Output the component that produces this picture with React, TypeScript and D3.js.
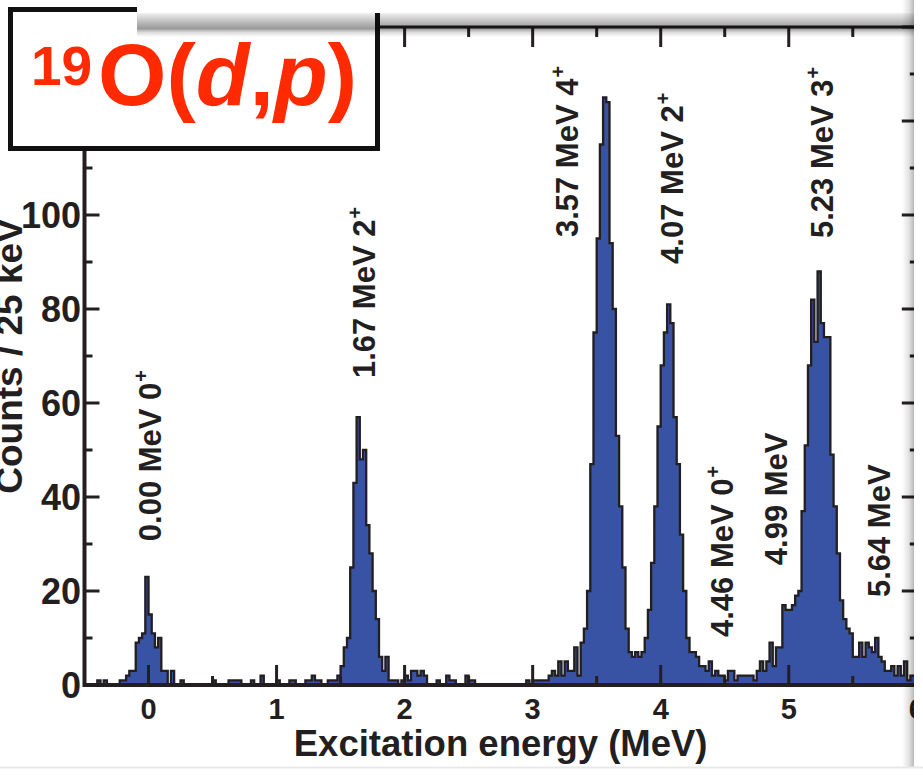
import React from 'react';
import * as d3 from 'd3';

// ---- data ----
const BIN_START = -0.5; // MeV
const BIN_WIDTH = 0.025; // MeV (25 keV)
const counts: number[] = [
  0, 0, 0, 0, 1, 0, 1, 0, 0, 0,
  0, 1, 1, 2, 3, 3, 9, 10, 11, 23,
  15, 11, 8, 10, 3, 3, 0, 3, 0, 0,
  1, 0, 0, 0, 0, 0, 0, 0, 0, 0,
  1, 0, 0, 0, 0, 1, 1, 1, 1, 0,
  0, 0, 1, 0, 0, 2, 0, 0, 0, 0,
  1, 0, 0, 0, 1, 1, 0, 0, 0, 1,
  1, 2, 1, 1, 0, 0, 1, 1, 1, 2,
  4, 8, 10, 25, 43, 57, 48, 50, 34, 28,
  20, 14, 6, 3, 6, 1, 1, 1, 0, 1,
  2, 1, 3, 3, 2, 3, 2, 0, 0, 0,
  1, 0, 0, 2, 1, 1, 0, 0, 0, 2,
  1, 1, 0, 0, 0, 0, 0, 0, 0, 0,
  0, 0, 0, 0, 0, 0, 0, 0, 1, 0,
  1, 1, 1, 1, 1, 2, 3, 2, 5, 2,
  5, 3, 3, 8, 2, 9, 12, 20, 47, 75,
  95, 115, 125, 124, 94, 80, 53, 38, 25, 12,
  7, 6, 7, 6, 7, 10, 16, 26, 38, 55,
  68, 75, 81, 77, 57, 47, 32, 20, 10, 7,
  7, 6, 4, 4, 3, 5, 2, 3, 2, 2,
  1, 3, 3, 1, 2, 2, 2, 2, 2, 1,
  3, 5, 3, 5, 9, 4, 8, 8, 17, 16,
  16, 17, 19, 20, 37, 51, 68, 82, 73, 88,
  77, 74, 74, 49, 38, 28, 18, 14, 12, 11,
  6, 6, 9, 6, 9, 8, 7, 10, 6, 5,
  3, 3, 4, 2, 4, 2, 5, 1, 2, 2,
];

const xMajorTicks = [0, 1, 2, 3, 4, 5, 6];
const xMinorTicks = [-0.5, 0.5, 1.5, 2.5, 3.5, 4.5, 5.5];
const yMajorTicks = [0, 20, 40, 60, 80, 100, 120, 140];
const yMinorTicks = [10, 30, 50, 70, 90, 110, 130];
const yTickLabels = [0, 20, 40, 60, 80, 100];

const peakNames = [
  '0.00 MeV 0', '1.67 MeV 2', '3.57 MeV 4', '4.07 MeV 2',
  '4.46 MeV 0', '4.99 MeV', '5.23 MeV 3', '5.64 MeV',
];
const peakSups = ['+', '+', '+', '+', '+', '', '+', ''];
// label anchor in data units (energy of text baseline, count where text starts)
const peakLabelE = [0.094, 1.766, 3.352, 4.172, 4.563, 4.984, 5.344, 5.789];
const peakLabelC = [30.6, 65.3, 95.3, 89.6, 10.2, 25.5, 95.1, 18.7];

const xTitle = 'Excitation energy (MeV)';
const yTitle = 'Counts / 25 keV';

// ---- layout ----
const W = 923;
const H = 779;
const FONT = '"Liberation Sans", Arial, Helvetica, sans-serif';
const INK = '#231f20';
const BLUE = '#3953a4';

export default function App() {
  const x = d3.scaleLinear().domain([-0.5, 6]).range([84.5, 916.8]);
  const y = d3.scaleLinear().domain([0, 140]).range([685, 27]);

  const pts: [number, number][] = counts.map((c, i) => [BIN_START + i * BIN_WIDTH, c]);
  pts.push([BIN_START + counts.length * BIN_WIDTH, counts[counts.length - 1]]);

  const area = d3
    .area<[number, number]>()
    .x((d) => x(d[0]))
    .y0(y(0))
    .y1((d) => y(d[1]))
    .curve(d3.curveStepAfter);
  const line = d3
    .line<[number, number]>()
    .x((d) => x(d[0]))
    .y((d) => y(d[1]))
    .curve(d3.curveStepAfter);

  const x0 = x.range()[0];
  const x1 = x.range()[1];
  const yb = y.range()[0];
  const yt = y.range()[1];

  return (
    <svg
      width={W}
      height={H}
      style={{ position: 'absolute', left: 0, top: 0, display: 'block', background: '#fff' }}
      fontFamily={FONT}
    >
      <defs>
        <linearGradient id="topShadow" x1="0" y1="0" x2="0" y2="1">
          <stop offset="0" stopColor="#000" stopOpacity="0.06" />
          <stop offset="0.35" stopColor="#000" stopOpacity="0.25" />
          <stop offset="0.65" stopColor="#000" stopOpacity="0.4" />
          <stop offset="0.8" stopColor="#000" stopOpacity="0.15" />
          <stop offset="1" stopColor="#000" stopOpacity="0" />
        </linearGradient>
        <linearGradient id="rightShadow" x1="0" y1="0" x2="1" y2="0">
          <stop offset="0" stopColor="#000" stopOpacity="0" />
          <stop offset="0.6" stopColor="#000" stopOpacity="0.12" />
          <stop offset="1" stopColor="#000" stopOpacity="0.28" />
        </linearGradient>
      </defs>

      {/* histogram */}
      <path d={area(pts) ?? ''} fill={BLUE} stroke="none" />
      <path d={line([[pts[0][0], 0], ...pts]) ?? ''} fill="none" stroke={INK} strokeWidth={2.3} strokeLinejoin="miter" />

      {/* frame */}
      <line x1={x0} x2={x1} y1={yb} y2={yb} stroke={INK} strokeWidth={4} />
      <line x1={x0} x2={x1} y1={yt} y2={yt} stroke={INK} strokeWidth={3} />
      <line x1={x0} x2={x0} y1={yt} y2={yb + 2} stroke={INK} strokeWidth={4} />
      <line x1={x1} x2={x1} y1={yt} y2={yb + 2} stroke={INK} strokeWidth={4} />

      {/* x ticks */}
      {xMajorTicks.map((t) => (
        <g key={'xM' + t}>
          <line x1={x(t)} x2={x(t)} y1={yb} y2={yb - 20} stroke={INK} strokeWidth={3} />
          <line x1={x(t)} x2={x(t)} y1={yt} y2={yt + 20} stroke={INK} strokeWidth={3} />
        </g>
      ))}
      {xMinorTicks.map((t) => (
        <g key={'xm' + t}>
          <line x1={x(t)} x2={x(t)} y1={yb} y2={yb - 9} stroke={INK} strokeWidth={3} />
          <line x1={x(t)} x2={x(t)} y1={yt} y2={yt + 10} stroke={INK} strokeWidth={3} />
        </g>
      ))}
      {/* y ticks */}
      {yMajorTicks.map((t) => (
        <g key={'yM' + t}>
          <line x1={x0} x2={x0 + 15} y1={y(t)} y2={y(t)} stroke={INK} strokeWidth={3} />
          <line x1={x1} x2={x1 - 15} y1={y(t)} y2={y(t)} stroke={INK} strokeWidth={3} />
        </g>
      ))}
      {yMinorTicks.map((t) => (
        <g key={'ym' + t}>
          <line x1={x0} x2={x0 + 8} y1={y(t)} y2={y(t)} stroke={INK} strokeWidth={3} />
          <line x1={x1} x2={x1 - 7} y1={y(t)} y2={y(t)} stroke={INK} strokeWidth={3} />
        </g>
      ))}

      {/* tick labels */}
      {xMajorTicks.map((t) => (
        <text key={'xl' + t} x={x(t)} y={719} textAnchor="middle" fontSize={29} fontWeight="bold" fill={INK}>
          {String(t)}
        </text>
      ))}
      {yTickLabels.map((t) => (
        <text key={'yl' + t} x={81} y={y(t) + 13} textAnchor="end" fontSize={36} fontWeight="bold" fill={INK}>
          {String(t)}
        </text>
      ))}

      {/* axis titles */}
      <text x={(x0 + x1) / 2} y={756} textAnchor="middle" fontSize={36.5} fontWeight="bold" fill={INK}>
        {xTitle}
      </text>
      <text
        transform={`translate(22,${(yt + yb) / 2}) rotate(-90)`}
        textAnchor="middle"
        fontSize={37}
        fontWeight="bold"
        fill={INK}
      >
        {yTitle}
      </text>

      {/* peak labels */}
      {peakNames.map((name, i) => (
        <text
          key={'pk' + i}
          transform={`translate(${x(peakLabelE[i])},${y(peakLabelC[i])}) rotate(-90)`}
          fontSize={31}
          fontWeight="bold"
          fill={INK}
        >
          {name}
          {peakSups[i] ? (
            <tspan dy={-13} dx={1} fontSize={20}>
              {peakSups[i]}
            </tspan>
          ) : null}
        </text>
      ))}

      {/* title box */}
      <rect x={10.5} y={9.5} width={367} height={139} fill="#fff" stroke="#111" strokeWidth={5} />
      <text x={31} y={85} fontSize={55} fontWeight="bold" fill="#ff2a00">
        19
      </text>
      <text x={98} y={105} fontSize={88} fontWeight="bold" fill="#ff2a00">
        O(<tspan fontStyle="italic">d</tspan>,<tspan fontStyle="italic">p</tspan>)
      </text>

      {/* screenshot edges */}
      <rect x={137} y={0} width={W - 137} height={13} fill="#fff" />
      <rect x={137} y={13} width={914 - 137} height={24} fill="url(#topShadow)" />
      <rect x={902} y={0} width={12} height={768} fill="url(#rightShadow)" />
      <rect x={914} y={0} width={W - 914} height={H} fill="#fff" />
      <rect x={0} y={766.5} width={W} height={2} fill="#e8e8e8" />
    </svg>
  );
}
